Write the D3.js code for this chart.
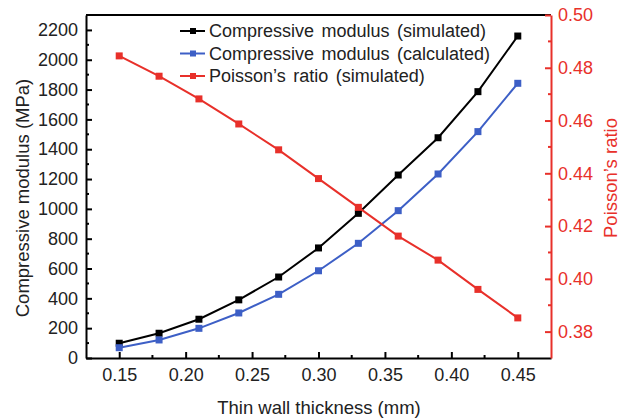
<!DOCTYPE html>
<html>
<head>
<meta charset="utf-8">
<script src="https://cdn.jsdelivr.net/npm/d3@7"></script>
<style>
  body { margin: 0; background: #fff; }
  svg text { font-family: "Liberation Sans", Arial, sans-serif; }
</style>
</head>
<body>
<svg id="chart" width="630" height="419"></svg>
<script>
// thickness values (mm)
const thickness = [0.15, 0.18, 0.21, 0.24, 0.27, 0.30, 0.33, 0.36, 0.39, 0.42, 0.45];
// compressive modulus (MPa)
const modulusSimulated = [99, 166, 260, 390, 543, 738, 970, 1227, 1477, 1786, 2159];
const modulusCalculated = [69, 121, 199, 302, 427, 585, 769, 988, 1234, 1518, 1842];
// Poisson's ratio
const poisson = [0.4845, 0.4768, 0.4682, 0.4587, 0.4489, 0.4380, 0.4271, 0.4162, 0.4071, 0.3960, 0.3852];

const xTicks = [0.15, 0.20, 0.25, 0.30, 0.35, 0.40, 0.45];
const leftTicks = [0, 200, 400, 600, 800, 1000, 1200, 1400, 1600, 1800, 2000, 2200];
const rightTicks = [0.38, 0.40, 0.42, 0.44, 0.46, 0.48, 0.50];

const RED = '#e8302a';
const BLUE = '#3d5fc6';
const BLACK = '#000';
const TEXT = '#222';

const margin = { left: 86, right: 79, top: 15, bottom: 61 };
const width = 630, height = 419;

const svg = d3.select('#chart');

const x = d3.scaleLinear().domain([0.125, 0.475]).range([margin.left, width - margin.right]);
const yL = d3.scaleLinear().domain([0, 2300]).range([height - margin.bottom, margin.top]);
const yR = d3.scaleLinear().domain([0.37, 0.50]).range([height - margin.bottom, margin.top]);

const plotBottom = height - margin.bottom;
const plotRight = width - margin.right;

// minor ticks, pointing into the plot
function minorTicks(g, scale, vals, orient, len, color) {
    vals.forEach(function (v) {
        const p = scale(v);
        const line = g.append('line').attr('stroke', color).attr('stroke-width', 2);
        if (orient === 'bottom') line.attr('x1', p).attr('x2', p).attr('y1', plotBottom).attr('y2', plotBottom - len);
        if (orient === 'left') line.attr('x1', margin.left).attr('x2', margin.left + len).attr('y1', p).attr('y2', p);
        if (orient === 'right') line.attr('x1', plotRight).attr('x2', plotRight - len).attr('y1', p).attr('y2', p);
    });
}

const grid = svg.append('g');
minorTicks(grid, x, d3.range(0.175, 0.475, 0.05), 'bottom', 3, BLACK);
minorTicks(grid, yL, d3.range(100, 2300, 200), 'left', 3, BLACK);
minorTicks(grid, yR, d3.range(0.39, 0.50, 0.02), 'right', 3, RED);

// top frame
svg.append('line')
    .attr('x1', margin.left).attr('x2', plotRight)
    .attr('y1', margin.top).attr('y2', margin.top)
    .attr('stroke', BLACK).attr('stroke-width', 2);

// x axis
const xAxis = svg.append('g')
    .attr('transform', 'translate(0,' + plotBottom + ')')
    .call(d3.axisBottom(x).tickValues(xTicks).tickFormat(d3.format('.2f'))
        .tickSizeInner(-6).tickSizeOuter(0).tickPadding(10));
xAxis.select('.domain').attr('stroke-width', 2);
xAxis.selectAll('.tick line').attr('stroke-width', 2);
xAxis.selectAll('text').attr('font-size', 18).attr('fill', TEXT);

// left axis
const lAxis = svg.append('g')
    .attr('transform', 'translate(' + margin.left + ',0)')
    .call(d3.axisLeft(yL).tickValues(leftTicks).tickFormat(d3.format('d'))
        .tickSizeInner(-6).tickSizeOuter(0).tickPadding(8));
lAxis.select('.domain').attr('stroke-width', 2);
lAxis.selectAll('.tick line').attr('stroke-width', 2);
lAxis.selectAll('text').attr('font-size', 18).attr('fill', TEXT);

// right axis
const rAxis = svg.append('g')
    .attr('transform', 'translate(' + plotRight + ',0)')
    .call(d3.axisRight(yR).tickValues(rightTicks).tickFormat(d3.format('.2f'))
        .tickSizeInner(-6).tickSizeOuter(0).tickPadding(7));
rAxis.select('.domain').attr('stroke', RED).attr('stroke-width', 2);
rAxis.selectAll('.tick line').attr('stroke', RED).attr('stroke-width', 2);
rAxis.selectAll('text').attr('font-size', 18).attr('fill', RED);

// axis titles
svg.append('text')
    .attr('x', 319).attr('y', 414)
    .attr('text-anchor', 'middle').attr('font-size', 18.5).attr('fill', TEXT)
    .text('Thin wall thickness (mm)');
svg.append('text')
    .attr('transform', 'translate(29,198) rotate(-90)')
    .attr('text-anchor', 'middle').attr('font-size', 18.5).attr('fill', TEXT)
    .text('Compressive modulus (MPa)');
svg.append('text')
    .attr('transform', 'translate(617,178) rotate(-90)')
    .attr('text-anchor', 'middle').attr('font-size', 18.5).attr('fill', RED)
    .text('Poisson\u2019s ratio');

// series
const series = [
    { name: 'Compressive modulus (simulated)', values: modulusSimulated, y: yL, color: BLACK },
    { name: 'Compressive modulus (calculated)', values: modulusCalculated, y: yL, color: BLUE },
    { name: 'Poisson\u2019s ratio (simulated)', values: poisson, y: yR, color: RED }
];

series.forEach(function (s) {
    const line = d3.line()
        .x(function (d, i) { return x(thickness[i]); })
        .y(function (d) { return s.y(d); });
    const g = svg.append('g');
    g.append('path')
        .attr('d', line(s.values))
        .attr('fill', 'none')
        .attr('stroke', s.color)
        .attr('stroke-width', 2);
    g.selectAll('rect')
        .data(s.values)
        .join('rect')
        .attr('x', function (d, i) { return x(thickness[i]) - 3.5; })
        .attr('y', function (d) { return s.y(d) - 3.5; })
        .attr('width', 7).attr('height', 7)
        .attr('fill', s.color);
});

// legend
const legend = svg.append('g').attr('transform', 'translate(180,31)');
series.forEach(function (s, i) {
    const row = legend.append('g').attr('transform', 'translate(0,' + (i * 22.5) + ')');
    row.append('line').attr('x1', 0).attr('x2', 25).attr('y1', 0).attr('y2', 0)
        .attr('stroke', s.color).attr('stroke-width', 2);
    row.append('rect').attr('x', 10).attr('y', -3).attr('width', 6).attr('height', 6)
        .attr('fill', s.color);
    row.append('text').attr('x', 29).attr('y', 6).attr('font-size', 18)
        .attr('word-spacing', 2.5).attr('fill', TEXT)
        .text(s.name);
});
</script>
</body>
</html>
